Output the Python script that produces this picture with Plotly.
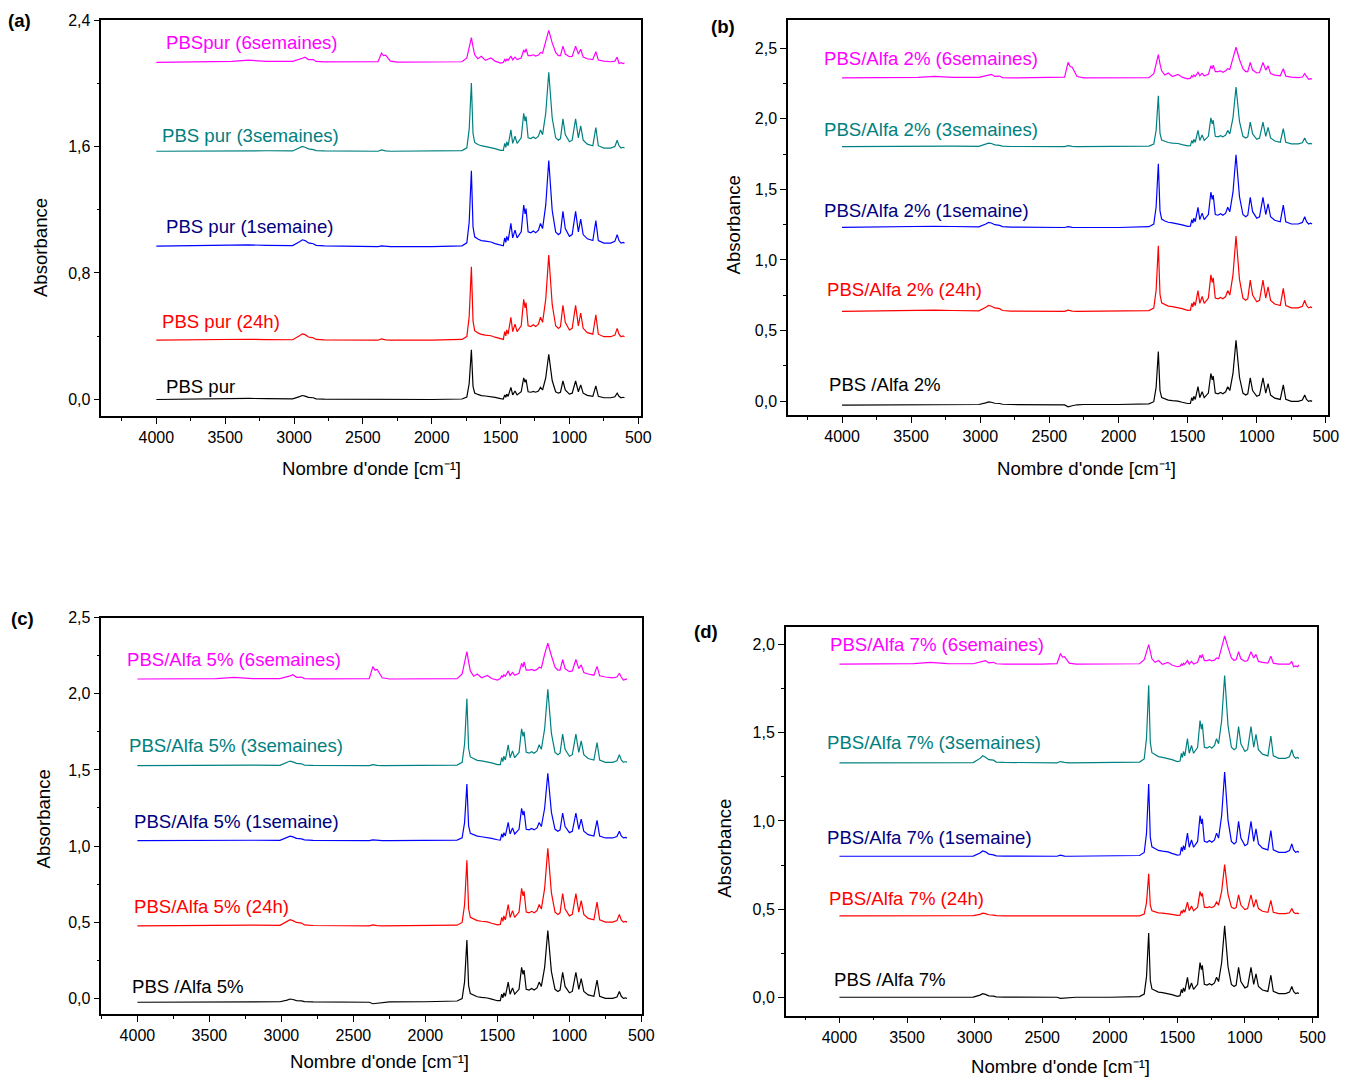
import plotly.graph_objects as go

W, H = 1350, 1077
SCALE = 0.992     # empirical page-to-picture factor
TOP_OFF = 8       # empirical top offset of the page content

# Wavenumber grid (cm-1), shared by all spectra
WAVENUMBER = [4000, 3700, 3450, 3330, 3200, 3010, 2960, 2940, 2920, 2895, 2860, 2840, 2780, 2500, 2390,
              2365, 2350, 2335, 2300, 2250, 2000, 1780, 1745, 1728, 1712, 1700, 1688, 1665, 1640, 1610,
              1570, 1540, 1500, 1480, 1470, 1462, 1455, 1445, 1425, 1412, 1395, 1380, 1350, 1332, 1322,
              1315, 1300, 1280, 1262, 1245, 1225, 1210, 1195, 1172, 1150, 1125, 1100, 1080, 1065, 1047,
              1030, 1000, 980, 955, 935, 918, 900, 870, 830, 808, 790, 750, 700, 670, 653, 640, 625, 610, 600]

# ---------------- Panel (a) : PBS pur ----------------
A_PUR = [0.0, 0.004, 0.008, 0.007, 0.005, 0.004, 0.018, 0.025, 0.021, 0.013, 0.011, 0.004, 0.002, 0.0, 0.0,
         0.0, 0.0, 0.0, 0.0, 0.0, 0.0,
         0.003, 0.016, 0.101, 0.315, 0.082, 0.041, 0.032, 0.025, 0.022, 0.019, 0.013, 0.005,
         0.003, 0.029, 0.014, 0.034, 0.02, 0.077, 0.029, 0.054, 0.029, 0.049, 0.137, 0.109, 0.126, 0.049,
         0.046, 0.051, 0.046, 0.054, 0.077, 0.06, 0.137, 0.286, 0.12, 0.049, 0.04, 0.046, 0.117, 0.06,
         0.034, 0.04, 0.117, 0.049, 0.092, 0.04, 0.026, 0.02, 0.086, 0.02, 0.011, 0.011, 0.017, 0.04,
         0.02, 0.011, 0.014, 0.011]
A_24H = [0.375, 0.378, 0.382, 0.381, 0.379, 0.378, 0.403, 0.415, 0.41, 0.395, 0.39, 0.38, 0.377, 0.375, 0.375,
         0.383, 0.38, 0.377, 0.375, 0.375, 0.375,
         0.38, 0.398, 0.523, 0.839, 0.496, 0.435, 0.421, 0.412, 0.407, 0.403, 0.394, 0.382,
         0.38, 0.429, 0.402, 0.44, 0.413, 0.52, 0.429, 0.477, 0.429, 0.466, 0.633, 0.579, 0.612, 0.466,
         0.461, 0.472, 0.461, 0.477, 0.52, 0.488, 0.633, 0.913, 0.601, 0.466, 0.45, 0.461, 0.596, 0.488,
         0.44, 0.45, 0.596, 0.466, 0.547, 0.45, 0.423, 0.413, 0.536, 0.413, 0.397, 0.397, 0.407, 0.45,
         0.413, 0.397, 0.402, 0.397]
A_1S = [0.97, 0.975, 0.98, 0.978, 0.975, 0.973, 0.998, 1.01, 1.005, 0.99, 0.985, 0.975, 0.972, 0.968, 0.967,
        0.972, 0.97, 0.968, 0.967, 0.967, 0.967,
        0.972, 0.991, 1.121, 1.447, 1.092, 1.029, 1.015, 1.005, 1.001, 0.996, 0.986, 0.974,
        0.972, 1.022, 0.994, 1.032, 1.005, 1.114, 1.022, 1.071, 1.022, 1.06, 1.229, 1.174, 1.207, 1.06,
        1.054, 1.065, 1.054, 1.071, 1.114, 1.081, 1.229, 1.512, 1.196, 1.06, 1.043, 1.054, 1.19, 1.081,
        1.032, 1.043, 1.19, 1.06, 1.141, 1.043, 1.016, 1.005, 1.131, 1.005, 0.989, 0.989, 1.0, 1.043,
        1.005, 0.989, 0.994, 0.989]
A_3S = [1.57, 1.572, 1.575, 1.574, 1.573, 1.572, 1.59, 1.6, 1.595, 1.585, 1.58, 1.574, 1.572, 1.57, 1.57,
        1.578, 1.575, 1.572, 1.57, 1.57, 1.57,
        1.574, 1.592, 1.708, 2.002, 1.682, 1.626, 1.613, 1.605, 1.6, 1.596, 1.587, 1.576,
        1.575, 1.62, 1.595, 1.63, 1.605, 1.705, 1.62, 1.665, 1.62, 1.655, 1.81, 1.76, 1.79, 1.655,
        1.65, 1.66, 1.65, 1.665, 1.705, 1.675, 1.81, 2.07, 1.78, 1.655, 1.64, 1.65, 1.775, 1.675,
        1.63, 1.64, 1.775, 1.655, 1.73, 1.64, 1.615, 1.605, 1.72, 1.605, 1.59, 1.59, 1.6, 1.64,
        1.605, 1.59, 1.595, 1.59]
A_6S = [2.132, 2.134, 2.138, 2.146, 2.138, 2.138, 2.15, 2.158, 2.165, 2.15, 2.15, 2.138, 2.135, 2.134, 2.136,
        2.19, 2.175, 2.178, 2.14, 2.134, 2.134,
        2.136, 2.16, 2.22, 2.288, 2.23, 2.18, 2.155, 2.17, 2.145, 2.16, 2.14, 2.128,
        2.132, 2.15, 2.14, 2.152, 2.145, 2.172, 2.148, 2.165, 2.15, 2.16, 2.21, 2.195, 2.218, 2.175,
        2.175, 2.18, 2.172, 2.178, 2.195, 2.19, 2.265, 2.334, 2.255, 2.195, 2.175, 2.175, 2.235, 2.185,
        2.168, 2.17, 2.235, 2.185, 2.215, 2.165, 2.155, 2.15, 2.2, 2.147, 2.14, 2.136, 2.14, 2.165,
        2.125, 2.13, 2.124, 2.13]

# ---------------- Panel (b) : PBS/Alfa 2% ----------------
B_PUR = [-0.028, -0.027, -0.026, -0.026, -0.025, -0.024, -0.012, -0.006, -0.008, -0.015, -0.017, -0.022, -0.024,
         -0.025, -0.027, -0.04, -0.038, -0.033, -0.026, -0.024, -0.024,
         -0.019, -0.004, 0.097, 0.352, 0.075, 0.026, 0.015, 0.007, 0.003, 0.0, -0.008, -0.017,
         -0.016, 0.025, 0.003, 0.034, 0.012, 0.102, 0.025, 0.066, 0.025, 0.057, 0.196, 0.151, 0.178, 0.057,
         0.052, 0.061, 0.052, 0.066, 0.102, 0.075, 0.196, 0.43, 0.169, 0.057, 0.043, 0.052, 0.165, 0.075,
         0.034, 0.043, 0.165, 0.057, 0.124, 0.043, 0.021, 0.012, 0.115, 0.012, -0.002, -0.002, 0.007, 0.043,
         0.012, -0.002, 0.003, -0.002]
B_24H = [0.636, 0.64, 0.645, 0.644, 0.642, 0.64, 0.665, 0.678, 0.672, 0.66, 0.655, 0.642, 0.638, 0.636, 0.636,
         0.645, 0.641, 0.638, 0.636, 0.636, 0.636,
         0.641, 0.659, 0.785, 1.101, 0.757, 0.696, 0.683, 0.673, 0.669, 0.664, 0.655, 0.643,
         0.645, 0.693, 0.667, 0.704, 0.677, 0.783, 0.693, 0.741, 0.693, 0.73, 0.894, 0.841, 0.873, 0.73,
         0.725, 0.735, 0.725, 0.741, 0.783, 0.751, 0.894, 1.17, 0.863, 0.73, 0.714, 0.725, 0.857, 0.751,
         0.704, 0.714, 0.857, 0.73, 0.81, 0.714, 0.688, 0.677, 0.799, 0.677, 0.661, 0.661, 0.672, 0.714,
         0.677, 0.661, 0.667, 0.661]
B_1S = [1.231, 1.235, 1.24, 1.239, 1.237, 1.235, 1.255, 1.266, 1.262, 1.25, 1.245, 1.236, 1.233, 1.231, 1.23,
        1.236, 1.233, 1.231, 1.23, 1.23, 1.23,
        1.236, 1.254, 1.375, 1.681, 1.348, 1.29, 1.276, 1.267, 1.263, 1.258, 1.249, 1.238,
        1.24, 1.286, 1.261, 1.296, 1.271, 1.373, 1.286, 1.332, 1.286, 1.322, 1.48, 1.429, 1.459, 1.322,
        1.317, 1.327, 1.317, 1.332, 1.373, 1.342, 1.48, 1.745, 1.449, 1.322, 1.306, 1.317, 1.444, 1.342,
        1.296, 1.306, 1.444, 1.322, 1.398, 1.306, 1.281, 1.271, 1.388, 1.271, 1.255, 1.255, 1.266, 1.306,
        1.271, 1.255, 1.261, 1.255]
B_3S = [1.803, 1.805, 1.808, 1.807, 1.806, 1.805, 1.82, 1.828, 1.825, 1.815, 1.812, 1.806, 1.804, 1.803, 1.803,
        1.81, 1.807, 1.805, 1.803, 1.803, 1.803,
        1.807, 1.821, 1.918, 2.163, 1.897, 1.85, 1.839, 1.832, 1.828, 1.825, 1.817, 1.808,
        1.809, 1.847, 1.826, 1.855, 1.834, 1.918, 1.847, 1.885, 1.847, 1.876, 2.007, 1.965, 1.99, 1.876,
        1.872, 1.881, 1.872, 1.885, 1.918, 1.893, 2.007, 2.225, 1.981, 1.876, 1.864, 1.872, 1.977, 1.893,
        1.855, 1.864, 1.977, 1.876, 1.939, 1.864, 1.843, 1.834, 1.931, 1.834, 1.822, 1.822, 1.83, 1.864,
        1.834, 1.822, 1.826, 1.822]
B_6S = [2.29, 2.292, 2.294, 2.3, 2.294, 2.293, 2.302, 2.31, 2.315, 2.3, 2.303, 2.292, 2.29, 2.29, 2.295,
        2.4, 2.37, 2.365, 2.3, 2.29, 2.29,
        2.292, 2.32, 2.39, 2.455, 2.39, 2.34, 2.31, 2.325, 2.3, 2.315, 2.295, 2.283,
        2.288, 2.305, 2.296, 2.31, 2.3, 2.33, 2.305, 2.322, 2.305, 2.315, 2.375, 2.355, 2.38, 2.335,
        2.335, 2.34, 2.33, 2.34, 2.355, 2.35, 2.43, 2.507, 2.42, 2.355, 2.335, 2.335, 2.4, 2.345,
        2.325, 2.328, 2.4, 2.345, 2.375, 2.32, 2.31, 2.305, 2.355, 2.302, 2.296, 2.292, 2.296, 2.32,
        2.3, 2.28, 2.285, 2.282]

# ---------------- Panel (c) : PBS/Alfa 5% ----------------
C_PUR = [-0.026, -0.025, -0.024, -0.024, -0.024, -0.023, -0.012, -0.005, -0.008, -0.015, -0.017, -0.022, -0.024,
         -0.025, -0.026, -0.036, -0.034, -0.031, -0.026, -0.024, -0.023,
         -0.018, -0.002, 0.108, 0.383, 0.083, 0.031, 0.019, 0.01, 0.006, 0.002, -0.006, -0.016,
         -0.015, 0.027, 0.003, 0.036, 0.013, 0.106, 0.027, 0.068, 0.027, 0.059, 0.203, 0.157, 0.185, 0.059,
         0.054, 0.064, 0.054, 0.068, 0.106, 0.078, 0.203, 0.445, 0.175, 0.059, 0.045, 0.054, 0.171, 0.078,
         0.036, 0.045, 0.171, 0.059, 0.129, 0.045, 0.022, 0.013, 0.12, 0.013, -0.001, -0.001, 0.008, 0.045,
         0.013, -0.001, 0.003, -0.001]
C_24H = [0.476, 0.479, 0.482, 0.481, 0.48, 0.479, 0.505, 0.516, 0.51, 0.498, 0.494, 0.482, 0.478, 0.476, 0.476,
         0.482, 0.479, 0.477, 0.476, 0.476, 0.476,
         0.48, 0.498, 0.614, 0.906, 0.588, 0.532, 0.519, 0.51, 0.506, 0.502, 0.493, 0.482,
         0.485, 0.531, 0.505, 0.541, 0.515, 0.616, 0.531, 0.576, 0.531, 0.566, 0.722, 0.672, 0.702, 0.566,
         0.561, 0.571, 0.561, 0.576, 0.616, 0.586, 0.722, 0.985, 0.692, 0.566, 0.551, 0.561, 0.687, 0.586,
         0.541, 0.551, 0.687, 0.566, 0.642, 0.551, 0.525, 0.515, 0.632, 0.515, 0.5, 0.5, 0.51, 0.551,
         0.515, 0.5, 0.505, 0.5]
C_1S = [1.035, 1.037, 1.04, 1.039, 1.038, 1.037, 1.055, 1.065, 1.06, 1.05, 1.047, 1.04, 1.037, 1.036, 1.035,
        1.04, 1.038, 1.036, 1.035, 1.035, 1.035,
        1.039, 1.054, 1.154, 1.408, 1.132, 1.083, 1.072, 1.065, 1.061, 1.057, 1.05, 1.041,
        1.039, 1.079, 1.057, 1.088, 1.066, 1.155, 1.079, 1.119, 1.079, 1.11, 1.248, 1.203, 1.23, 1.11,
        1.106, 1.115, 1.106, 1.119, 1.155, 1.128, 1.248, 1.478, 1.221, 1.11, 1.097, 1.106, 1.217, 1.128,
        1.088, 1.097, 1.217, 1.11, 1.177, 1.097, 1.075, 1.066, 1.168, 1.066, 1.053, 1.053, 1.062, 1.097,
        1.066, 1.053, 1.057, 1.053]
C_3S = [1.528, 1.53, 1.533, 1.532, 1.531, 1.53, 1.548, 1.558, 1.553, 1.543, 1.54, 1.532, 1.53, 1.528, 1.528,
        1.535, 1.532, 1.53, 1.528, 1.528, 1.528,
        1.532, 1.55, 1.669, 1.968, 1.642, 1.585, 1.572, 1.563, 1.559, 1.554, 1.546, 1.535,
        1.535, 1.58, 1.555, 1.59, 1.565, 1.665, 1.58, 1.625, 1.58, 1.615, 1.77, 1.72, 1.75, 1.615,
        1.61, 1.62, 1.61, 1.625, 1.665, 1.635, 1.77, 2.03, 1.74, 1.615, 1.6, 1.61, 1.735, 1.635,
        1.59, 1.6, 1.735, 1.615, 1.69, 1.6, 1.575, 1.565, 1.68, 1.565, 1.55, 1.55, 1.56, 1.6,
        1.565, 1.55, 1.555, 1.55]
C_6S = [2.097, 2.1, 2.1, 2.108, 2.1, 2.1, 2.11, 2.118, 2.125, 2.108, 2.11, 2.1, 2.098, 2.097, 2.1,
        2.178, 2.155, 2.16, 2.105, 2.097, 2.097,
        2.099, 2.13, 2.21, 2.277, 2.21, 2.15, 2.115, 2.13, 2.105, 2.12, 2.1, 2.09,
        2.1, 2.12, 2.108, 2.125, 2.115, 2.15, 2.12, 2.14, 2.122, 2.135, 2.2, 2.175, 2.21, 2.155,
        2.155, 2.16, 2.152, 2.16, 2.175, 2.17, 2.26, 2.333, 2.25, 2.175, 2.155, 2.155, 2.225, 2.165,
        2.145, 2.15, 2.225, 2.165, 2.19, 2.14, 2.13, 2.122, 2.18, 2.118, 2.11, 2.105, 2.11, 2.135,
        2.11, 2.09, 2.095, 2.098]

# ---------------- Panel (d) : PBS/Alfa 7% ----------------
D_PUR = [0.0, 0.0, 0.001, 0.001, 0.001, 0.001, 0.012, 0.02, 0.016, 0.008, 0.006, 0.002, 0.001, 0.0, 0.0,
         -0.006, -0.005, -0.004, -0.001, 0.0, 0.0,
         0.004, 0.018, 0.117, 0.365, 0.095, 0.047, 0.037, 0.029, 0.026, 0.022, 0.015, 0.005,
         0.009, 0.045, 0.025, 0.053, 0.033, 0.113, 0.045, 0.081, 0.045, 0.073, 0.197, 0.157, 0.181, 0.073,
         0.069, 0.077, 0.069, 0.081, 0.113, 0.089, 0.197, 0.405, 0.173, 0.073, 0.061, 0.069, 0.169, 0.089,
         0.053, 0.061, 0.169, 0.073, 0.133, 0.061, 0.041, 0.033, 0.125, 0.033, 0.021, 0.021, 0.029, 0.061,
         0.033, 0.021, 0.025, 0.021]
D_24H = [0.462, 0.463, 0.464, 0.464, 0.463, 0.463, 0.47, 0.477, 0.474, 0.468, 0.466, 0.463, 0.462, 0.462, 0.462,
         0.464, 0.463, 0.462, 0.462, 0.462, 0.462,
         0.462, 0.472, 0.537, 0.70, 0.522, 0.491, 0.484, 0.479, 0.477, 0.474, 0.47, 0.464,
         0.465, 0.491, 0.477, 0.497, 0.482, 0.54, 0.491, 0.517, 0.491, 0.511, 0.601, 0.572, 0.59, 0.511,
         0.508, 0.514, 0.508, 0.517, 0.54, 0.523, 0.601, 0.752, 0.584, 0.511, 0.503, 0.508, 0.581, 0.523,
         0.497, 0.503, 0.581, 0.511, 0.555, 0.503, 0.488, 0.482, 0.549, 0.482, 0.474, 0.474, 0.479, 0.503,
         0.482, 0.474, 0.477, 0.474]
D_1S = [0.80, 0.801, 0.803, 0.802, 0.802, 0.801, 0.818, 0.83, 0.825, 0.812, 0.808, 0.802, 0.801, 0.80, 0.80,
        0.806, 0.803, 0.801, 0.80, 0.80, 0.80,
        0.804, 0.821, 0.931, 1.21, 0.907, 0.853, 0.841, 0.833, 0.829, 0.825, 0.816, 0.806,
        0.808, 0.851, 0.827, 0.86, 0.836, 0.931, 0.851, 0.893, 0.851, 0.884, 1.031, 0.984, 1.012, 0.884,
        0.879, 0.889, 0.879, 0.893, 0.931, 0.903, 1.031, 1.278, 1.003, 0.884, 0.87, 0.879, 0.998, 0.903,
        0.86, 0.87, 0.998, 0.884, 0.955, 0.87, 0.846, 0.836, 0.946, 0.836, 0.822, 0.822, 0.832, 0.87,
        0.836, 0.822, 0.827, 0.822]
D_3S = [1.33, 1.331, 1.333, 1.332, 1.332, 1.331, 1.355, 1.37, 1.362, 1.348, 1.345, 1.334, 1.332, 1.33, 1.33,
        1.337, 1.334, 1.332, 1.33, 1.33, 1.33,
        1.334, 1.352, 1.471, 1.77, 1.444, 1.387, 1.374, 1.365, 1.361, 1.356, 1.348, 1.337,
        1.34, 1.384, 1.36, 1.394, 1.369, 1.467, 1.384, 1.428, 1.384, 1.418, 1.57, 1.521, 1.551, 1.418,
        1.413, 1.423, 1.413, 1.428, 1.467, 1.438, 1.57, 1.825, 1.541, 1.418, 1.404, 1.413, 1.536, 1.438,
        1.394, 1.404, 1.536, 1.418, 1.492, 1.404, 1.379, 1.369, 1.482, 1.369, 1.355, 1.355, 1.364, 1.404,
        1.369, 1.355, 1.36, 1.355]
D_6S = [1.89, 1.891, 1.893, 1.9, 1.893, 1.892, 1.9, 1.905, 1.91, 1.897, 1.9, 1.892, 1.89, 1.89, 1.893,
        1.95, 1.93, 1.932, 1.895, 1.89, 1.89,
        1.892, 1.915, 1.96, 2.0, 1.96, 1.92, 1.9, 1.91, 1.888, 1.9, 1.885, 1.875,
        1.878, 1.89, 1.882, 1.895, 1.888, 1.91, 1.89, 1.905, 1.89, 1.9, 1.94, 1.925, 1.945, 1.91,
        1.91, 1.915, 1.908, 1.912, 1.925, 1.92, 1.985, 2.05, 1.985, 1.925, 1.91, 1.915, 1.96, 1.92,
        1.905, 1.91, 1.96, 1.925, 1.945, 1.905, 1.9, 1.895, 1.935, 1.895, 1.89, 1.888, 1.89, 1.905,
        1.875, 1.88, 1.875, 1.885]

# Series labels
LABELS_A = ["PBS pur", "PBS pur (24h)", "PBS pur (1semaine)", "PBS pur (3semaines)", "PBSpur (6semaines)"]
LABELS_B = ["PBS /Alfa 2%", "PBS/Alfa 2% (24h)", "PBS/Alfa 2% (1semaine)", "PBS/Alfa 2% (3semaines)", "PBS/Alfa 2% (6semaines)"]
LABELS_C = ["PBS /Alfa 5%", "PBS/Alfa 5% (24h)", "PBS/Alfa 5% (1semaine)", "PBS/Alfa 5% (3semaines)", "PBS/Alfa 5% (6semaines)"]
LABELS_D = ["PBS /Alfa 7%", "PBS/Alfa 7% (24h)", "PBS/Alfa 7% (1semaine)", "PBS/Alfa 7% (3semaines)", "PBS/Alfa 7% (6semaines)"]

X_TICKS = [4000, 3500, 3000, 2500, 2000, 1500, 1000, 500]
X_MINOR = [4250, 3750, 3250, 2750, 2250, 1750, 1250, 750]
X_TITLE = "Nombre d'onde [cm⁻¹]"
Y_TITLE = "Absorbance"

LINE_COLORS = ["#000000", "#FF0000", "#0000FF", "#008080", "#FF00FF"]
TEXT_COLORS = ["#000000", "#FF0000", "#000080", "#008080", "#FF00FF"]

FONT = "Liberation Sans, Arial, sans-serif"
LABEL_SIZE = 18.6
TICK_SIZE = 16


def px(x):
    return (x / SCALE) / W


def py(y):
    return 1 - ((y - TOP_OFF) / SCALE) / H


panels = [
    dict(letter="(a)", series=[A_PUR, A_24H, A_1S, A_3S, A_6S], labels=LABELS_A,
         xdom=[101.5, 642], ydom=[415.7, 20], xr=[4399, 477], yr=[-0.104, 2.4],
         yt=[0.0, 0.8, 1.6, 2.4], ytt=["0,0", "0,8", "1,6", "2,4"], ym=[0.4, 1.2, 2.0],
         lab_pos=[(164, 386), (160, 321.7), (164, 226), (160, 135), (164, 42.3)],
         letter_pos=(19.5, 20), ytitle_pos=(40, 247), xtitle_pos=(372, 468)),
    dict(letter="(b)", series=[B_PUR, B_24H, B_1S, B_3S, B_6S], labels=LABELS_B,
         xdom=[788.7, 1329], ydom=[415, 20], xr=[4391, 486], yr=[-0.1, 2.7],
         yt=[0.0, 0.5, 1.0, 1.5, 2.0, 2.5], ytt=["0,0", "0,5", "1,0", "1,5", "2,0", "2,5"],
         ym=[0.25, 0.75, 1.25, 1.75, 2.25],
         lab_pos=[(828, 384), (826, 289.3), (823, 210.7), (823, 129.3), (823, 58.3)],
         letter_pos=(723.5, 26), ytitle_pos=(734, 225), xtitle_pos=(1087, 468)),
    dict(letter="(c)", series=[C_PUR, C_24H, C_1S, C_3S, C_6S], labels=LABELS_C,
         xdom=[101.5, 643], ydom=[1013.3, 617.3], xr=[4250, 493], yr=[-0.1025, 2.5],
         yt=[0.0, 0.5, 1.0, 1.5, 2.0, 2.5], ytt=["0,0", "0,5", "1,0", "1,5", "2,0", "2,5"],
         ym=[0.25, 0.75, 1.25, 1.75, 2.25],
         lab_pos=[(130, 985.7), (132, 905.7), (132, 820.7), (127, 745), (125.6, 659)],
         letter_pos=(22.5, 618), ytitle_pos=(44, 818), xtitle_pos=(380, 1061)),
    dict(letter="(d)", series=[D_PUR, D_24H, D_1S, D_3S, D_6S], labels=LABELS_D,
         xdom=[786.5, 1318], ydom=[1015, 626.7], xr=[4397, 468], yr=[-0.104, 2.1],
         yt=[0.0, 0.5, 1.0, 1.5, 2.0], ytt=["0,0", "0,5", "1,0", "1,5", "2,0"],
         ym=[0.25, 0.75, 1.25, 1.75],
         lab_pos=[(833, 979), (828, 897.7), (826, 836.7), (826, 742.3), (829, 644)],
         letter_pos=(707, 631.5), ytitle_pos=(725, 848), xtitle_pos=(1061, 1066)),
]

fig = go.Figure()
layout = dict(width=W, height=H, margin=dict(l=0, r=0, t=0, b=0), paper_bgcolor="white",
              plot_bgcolor="white", showlegend=False, font=dict(family=FONT, color="black"))
annotations = []

for i, p in enumerate(panels, start=1):
    xa = "x" if i == 1 else f"x{i}"
    ya = "y" if i == 1 else f"y{i}"
    for s, col in zip(p["series"], LINE_COLORS):
        fig.add_trace(go.Scatter(x=WAVENUMBER, y=s, mode="lines", xaxis=xa, yaxis=ya,
                                 line=dict(color=col, width=1.2), hoverinfo="skip"))
    layout[f"xaxis{'' if i == 1 else i}"] = dict(
        domain=[px(p["xdom"][0]), px(p["xdom"][1])], anchor=ya, range=p["xr"],
        tickvals=X_TICKS, ticktext=[str(v) for v in X_TICKS], ticks="outside", ticklen=6,
        tickwidth=1.2, tickcolor="black", showline=True, linecolor="black", linewidth=1.5,
        mirror=True, showgrid=False, zeroline=False,
        tickfont=dict(family=FONT, size=TICK_SIZE, color="black"),
        minor=dict(tickvals=X_MINOR, ticks="outside", ticklen=3, tickwidth=1.2, tickcolor="black",
                   showgrid=False))
    layout[f"yaxis{'' if i == 1 else i}"] = dict(
        domain=[py(p["ydom"][0]), py(p["ydom"][1])], anchor=xa, range=p["yr"],
        tickvals=p["yt"], ticktext=p["ytt"], ticks="outside", ticklen=6, tickwidth=1.2,
        tickcolor="black", showline=True, linecolor="black", linewidth=1.5, mirror=True,
        showgrid=False, zeroline=False, tickfont=dict(family=FONT, size=TICK_SIZE, color="black"),
        minor=dict(tickvals=p["ym"], ticks="outside", ticklen=3, tickwidth=1.2, tickcolor="black",
                   showgrid=False))
    # right-hand inner ticks (overlay axis without labels)
    layout[f"yaxis{i + 4}"] = dict(
        overlaying=ya, side="right", anchor=xa, range=p["yr"], tickvals=p["yt"],
        showticklabels=False, ticks="inside", ticklen=5, tickwidth=1, tickcolor="black",
        showline=False, showgrid=False, zeroline=False,
        minor=dict(tickvals=p["ym"], ticks="inside", ticklen=3, tickwidth=1, tickcolor="black",
                   showgrid=False))
    # text labels for each spectrum
    for (lx, ly), txt, tc in zip(p["lab_pos"], p["labels"], TEXT_COLORS):
        annotations.append(dict(x=px(lx), y=py(ly), xref="paper", yref="paper", text=txt,
                                showarrow=False, xanchor="left", yanchor="middle",
                                font=dict(family=FONT, size=LABEL_SIZE, color=tc)))
    annotations.append(dict(x=px(p["letter_pos"][0]), y=py(p["letter_pos"][1]), xref="paper",
                            yref="paper", text=p["letter"], showarrow=False,
                            xanchor="center", yanchor="middle",
                            font=dict(family=FONT, size=LABEL_SIZE, color="black", weight="bold")))
    annotations.append(dict(x=px(p["ytitle_pos"][0]), y=py(p["ytitle_pos"][1]), xref="paper",
                            yref="paper", text=Y_TITLE, textangle=-90, showarrow=False,
                            xanchor="center", yanchor="middle",
                            font=dict(family=FONT, size=LABEL_SIZE, color="black")))
    annotations.append(dict(x=px(p["xtitle_pos"][0]), y=py(p["xtitle_pos"][1]), xref="paper",
                            yref="paper", text=X_TITLE, showarrow=False,
                            xanchor="center", yanchor="middle",
                            font=dict(family=FONT, size=LABEL_SIZE, color="black")))

layout["annotations"] = annotations
fig.update_layout(**layout)
fig.write_html("out.html")
